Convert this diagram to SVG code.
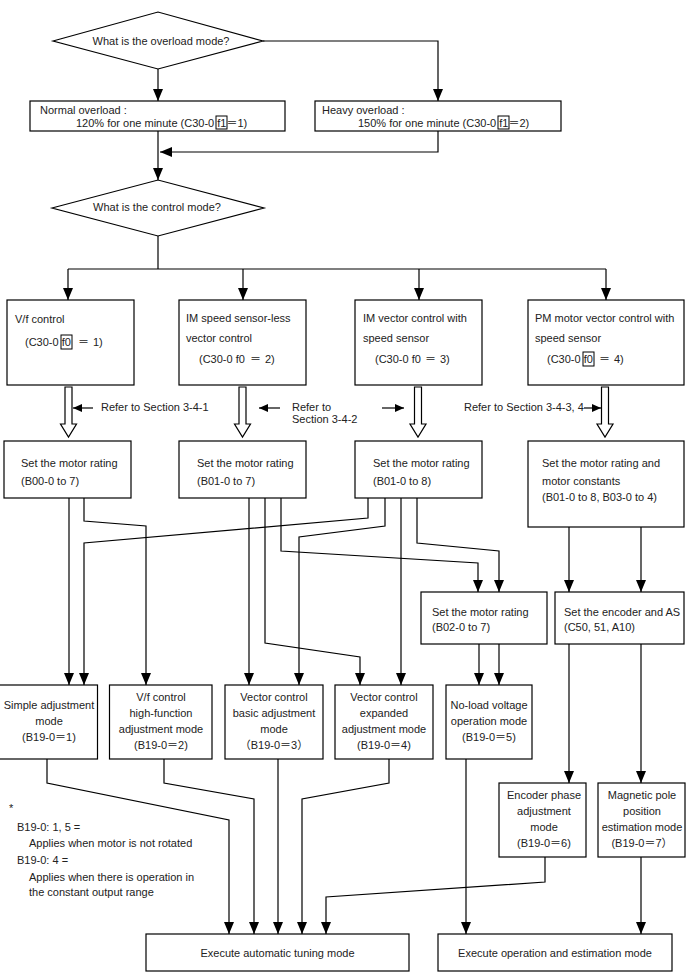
<svg xmlns="http://www.w3.org/2000/svg" width="686" height="979" viewBox="0 0 686 979">
<defs>
<marker id="ah" markerUnits="userSpaceOnUse" markerWidth="12" markerHeight="10" refX="12" refY="5" orient="auto">
<path d="M0,0 L12,5 L0,10 Z" fill="#000"/>
</marker>
<marker id="sm" markerUnits="userSpaceOnUse" markerWidth="9" markerHeight="8" refX="9" refY="4" orient="auto">
<path d="M0,0 L9,4 L0,8 Z" fill="#000"/>
</marker>
<style>
.box{fill:#fff;stroke:#000;stroke-width:1.2}
.ln{fill:none;stroke:#000;stroke-width:1.2;marker-end:url(#ah)}
.rf{fill:none;stroke:#000;stroke-width:1.2;marker-end:url(#sm)}
.hol{fill:#fff;stroke:#000;stroke-width:1.2}
.fb{fill:none;stroke:#000;stroke-width:1}
text{font-family:"Liberation Sans",Arial,"Noto Sans CJK JP",sans-serif;font-size:11px;fill:#222}
.c{text-anchor:middle}
</style>
</defs>
<rect width="686" height="979" fill="#fff"/>

<g id="connectors">
<polyline class="ln" points="263,41 438,41 438,101"/>
<polyline class="ln" points="158,69 158,101"/>
<polyline class="ln" points="438,131 438,152 160,152"/>
<polyline class="ln" points="158,131 158,180"/>
<polyline fill="none" stroke="#000" stroke-width="1.2" points="158,236 158,269"/>
<polyline fill="none" stroke="#000" stroke-width="1.2" points="68,269 606,269"/>
<polyline class="ln" points="68,269 68,300"/>
<polyline class="ln" points="243,269 243,300"/>
<polyline class="ln" points="419,269 419,300"/>
<polyline class="ln" points="606,269 606,300"/>
<polygon class="hol" points="65,387 72,387 72,424 76.5,424 68.5,437 60.5,424 65,424"/>
<polygon class="hol" points="239,387 246,387 246,424 250.5,424 242.5,437 234.5,424 239,424"/>
<polygon class="hol" points="414.5,387 421.5,387 421.5,424 426,424 418,437 410,424 414.5,424"/>
<polygon class="hol" points="601.5,387 608.5,387 608.5,424 613,424 605,437 597,424 601.5,424"/>
<polyline class="rf" points="93,408 73,408"/>
<polyline class="rf" points="280,408 259,408"/>
<polyline class="rf" points="382,408 404,408"/>
<polyline class="rf" points="584,408 601,408"/>
<polyline class="ln" points="69,498 69,685"/>
<polyline class="ln" points="84,498 84,521 146,526 146,685"/>
<polyline class="ln" points="249,498 249,685"/>
<polyline class="ln" points="265,498 265,643 360,657 360,685"/>
<polyline class="ln" points="281,498 281,551 478,563 478,592"/>
<polyline class="ln" points="368,498 368,518 84,543 84,685"/>
<polyline class="ln" points="385,498 385,526 299,537 299,685"/>
<polyline class="ln" points="401,498 401,685"/>
<polyline class="ln" points="417,498 417,543 499,551 499,592"/>
<polyline class="ln" points="569,527 569,592"/>
<polyline class="ln" points="641,527 641,592"/>
<polyline class="ln" points="479,644 479,685"/>
<polyline class="ln" points="499,644 499,685"/>
<polyline class="ln" points="569,644 569,783"/>
<polyline class="ln" points="641,644 641,783"/>
<polyline class="ln" points="47,759 47,783 229,820 229,934"/>
<polyline class="ln" points="164,759 164,783 254,799 254,934"/>
<polyline class="ln" points="278,759 278,934"/>
<polyline class="ln" points="389,759 389,783 302,799 302,934"/>
<polyline class="ln" points="545,857 545,882 326,897 326,934"/>
<polyline class="ln" points="466,759 466,934"/>
<polyline class="ln" points="641,857 641,934"/>
</g>

<g id="refer-labels">
<text x="101" y="411">Refer to Section 3-4-1</text>
<text x="292" y="411">Refer to</text>
<text x="292" y="423">Section 3-4-2</text>
<text x="464" y="411">Refer to Section 3-4-3, 4</text>
</g>

<g id="q-overload">
<polygon class="box" points="53,41 158,12 263,41 158,69"/>
<text class="c" x="161" y="45">What is the overload mode?</text>
</g>

<g id="normal-overload">
<rect class="box" x="30" y="101" width="255" height="30"/>
<text x="40" y="114">Normal overload :</text>
<text x="76" y="127">120% for one minute (C30-0 f1＝1)</text>
<rect class="fb" x="216" y="116" width="11" height="13"/>
</g>

<g id="heavy-overload">
<rect class="box" x="315" y="101" width="246" height="30"/>
<text x="322" y="114">Heavy overload :</text>
<text x="358" y="127">150% for one minute (C30-0 f1＝2)</text>
<rect class="fb" x="498" y="116" width="11" height="13"/>
</g>

<g id="q-control">
<polygon class="box" points="52,208 158,180 264,208 158,236"/>
<text class="c" x="157" y="211">What is the control mode?</text>
</g>

<g id="vf-control">
<rect class="box" x="7" y="300" width="127" height="85"/>
<text x="15" y="323">V/f control</text>
<text x="25" y="346">(C30-0 f0<tspan x="78">＝</tspan><tspan x="93">1)</tspan></text>
<rect class="fb" x="61" y="335" width="11" height="14"/>
</g>

<g id="im-sensorless">
<rect class="box" x="179" y="300" width="127" height="85"/>
<text x="186" y="322">IM speed sensor-less</text>
<text x="186" y="342">vector control</text>
<text x="199" y="363">(C30-0 f0<tspan x="250">＝</tspan><tspan x="265">2)</tspan></text>
</g>

<g id="im-vector">
<rect class="box" x="355" y="300" width="127" height="85"/>
<text x="363" y="322">IM vector control with</text>
<text x="363" y="342">speed sensor</text>
<text x="375" y="363">(C30-0 f0<tspan x="425">＝</tspan><tspan x="440">3)</tspan></text>
</g>

<g id="pm-vector">
<rect class="box" x="528" y="300" width="156" height="85"/>
<text x="535" y="322">PM motor vector control with</text>
<text x="535" y="342">speed sensor</text>
<text x="547" y="363">(C30-0 f0<tspan x="599">＝</tspan><tspan x="614">4)</tspan></text>
<rect class="fb" x="583" y="352" width="11" height="14"/>
</g>

<g id="rating-b00">
<rect class="box" x="4" y="441" width="127" height="57"/>
<text x="21" y="467">Set the motor rating</text>
<text x="21" y="485">(B00-0 to 7)</text>
</g>

<g id="rating-b01-7">
<rect class="box" x="179" y="441" width="127" height="57"/>
<text x="197" y="467">Set the motor rating</text>
<text x="197" y="485">(B01-0 to 7)</text>
</g>

<g id="rating-b01-8">
<rect class="box" x="355" y="441" width="127" height="57"/>
<text x="373" y="467">Set the motor rating</text>
<text x="373" y="485">(B01-0 to 8)</text>
</g>

<g id="rating-constants">
<rect class="box" x="528" y="441" width="156" height="86"/>
<text x="542" y="467">Set the motor rating and</text>
<text x="542" y="485">motor constants</text>
<text x="542" y="501">(B01-0 to 8, B03-0 to 4)</text>
</g>

<g id="rating-b02">
<rect class="box" x="421" y="592" width="126" height="52"/>
<text x="432" y="616">Set the motor rating</text>
<text x="432" y="631">(B02-0 to 7)</text>
</g>

<g id="encoder-as">
<rect class="box" x="555" y="592" width="129" height="52"/>
<text x="564" y="616">Set the encoder and AS</text>
<text x="564" y="631">(C50, 51, A10)</text>
</g>

<g id="mode-simple">
<rect class="box" x="-1" y="685" width="98.5" height="74"/>
<text class="c" x="49" y="709">Simple adjustment</text>
<text class="c" x="49" y="725">mode</text>
<text class="c" x="49" y="741">(B19-0＝1)</text>
</g>

<g id="mode-vf-high">
<rect class="box" x="109.5" y="685" width="102.5" height="74"/>
<text class="c" x="161" y="701">V/f control</text>
<text class="c" x="161" y="717">high-function</text>
<text class="c" x="161" y="733">adjustment mode</text>
<text class="c" x="161" y="749">(B19-0＝2)</text>
</g>

<g id="mode-vector-basic">
<rect class="box" x="225" y="685" width="98" height="74"/>
<text class="c" x="274" y="701">Vector control</text>
<text class="c" x="274" y="717">basic adjustment</text>
<text class="c" x="274" y="733">mode</text>
<text class="c" x="274" y="749">（B19-0＝3）</text>
</g>

<g id="mode-vector-expanded">
<rect class="box" x="335" y="685" width="98" height="74"/>
<text class="c" x="384" y="701">Vector control</text>
<text class="c" x="384" y="717">expanded</text>
<text class="c" x="384" y="733">adjustment mode</text>
<text class="c" x="384" y="749">(B19-0＝4)</text>
</g>

<g id="mode-noload">
<rect class="box" x="446" y="685" width="86" height="74"/>
<text class="c" x="489" y="709">No-load voltage</text>
<text class="c" x="489" y="725">operation mode</text>
<text class="c" x="489" y="741">(B19-0＝5)</text>
</g>

<g id="mode-encoder-phase">
<rect class="box" x="499" y="783" width="87" height="74"/>
<text class="c" x="544" y="799">Encoder phase</text>
<text class="c" x="544" y="815">adjustment</text>
<text class="c" x="544" y="831">mode</text>
<text class="c" x="544" y="847">(B19-0＝6)</text>
</g>

<g id="mode-magnetic-pole">
<rect class="box" x="598" y="783" width="87" height="74"/>
<text class="c" x="642" y="799">Magnetic pole</text>
<text class="c" x="642" y="815">position</text>
<text class="c" x="642" y="831">estimation mode</text>
<text class="c" x="642" y="847">(B19-0＝7）</text>
</g>

<g id="exec-auto-tuning">
<rect class="box" x="146" y="934" width="263" height="37"/>
<text class="c" x="277.5" y="957">Execute automatic tuning mode</text>
</g>

<g id="exec-operation">
<rect class="box" x="438" y="934" width="234" height="37"/>
<text class="c" x="555" y="957">Execute operation and estimation mode</text>
</g>

<g id="note">
<text x="9" y="812">*</text>
<text x="17" y="831">B19-0: 1, 5 =</text>
<text x="29" y="847">Applies when motor is not rotated</text>
<text x="17" y="864">B19-0: 4 =</text>
<text x="29" y="881">Applies when there is operation in</text>
<text x="29" y="896">the constant output range</text>
</g>
</svg>
